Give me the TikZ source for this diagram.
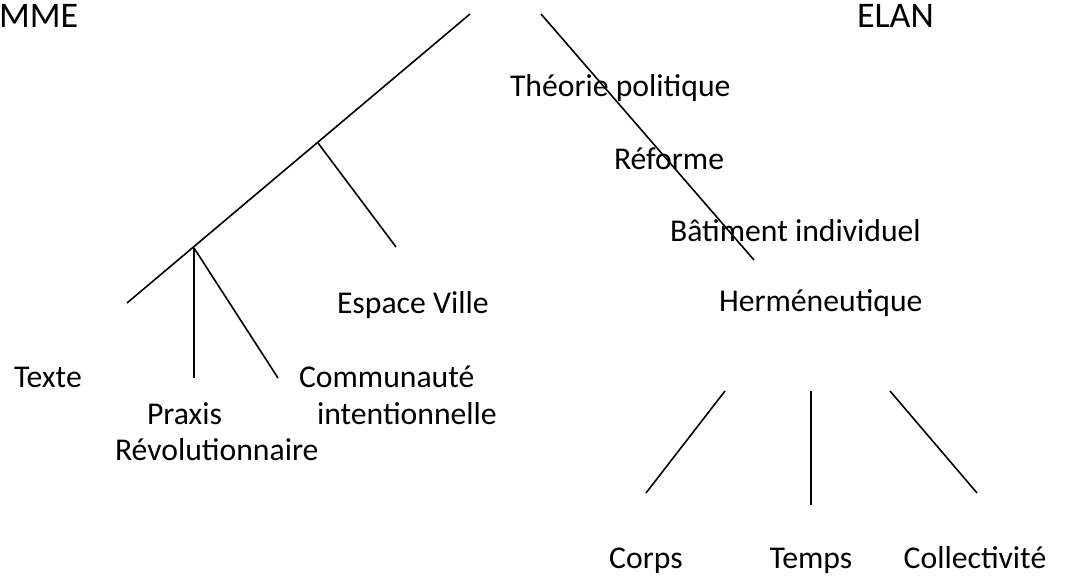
\documentclass[tikz,border=0pt]{standalone}
\usepackage{fontspec}
\setmainfont{Carlito}
\begin{document}
\begin{tikzpicture}[x=1pt,y=-1pt,
  lbl/.style={anchor=base west,inner sep=0pt,outer sep=0pt,font=\fontsize{31.7}{38}\selectfont},
  title/.style={lbl,font=\fontsize{36}{43}\selectfont},
  branch/.style={line width=1.6pt,black}]
\useasboundingbox (0,0) rectangle (1066,580);
% labels
\node[title] (mme) at (-1,28) {MME};
\node[title] (elan) at (857,28) {ELAN};
\node[lbl] (theorie) at (510,97) {Théorie politique};
\node[lbl] (reforme) at (614,170) {Réforme};
\node[lbl] (batiment) at (670,242) {Bâtiment individuel};
\node[lbl] (hermeneutique) at (719,312) {Herméneutique};
\node[lbl] (espace) at (337,313) {Espace Ville};
\node[lbl] (texte) at (14,387) {Texte};
\node[lbl] (communaute) at (299,387) {Communauté};
\node[lbl] (praxis) at (147,424) {Praxis};
\node[lbl] (intentionnelle) at (317,424) {intentionnelle};
\node[lbl] (revolutionnaire) at (115,460) {Révolutionnaire};
\node[lbl,anchor=base] (corps) at (646,568) {Corps};
\node[lbl,anchor=base] (temps) at (811,568) {Temps};
\node[lbl,anchor=base] (collectivite) at (975,568) {Collectivité};
% line end points
\coordinate (mtop) at (470,14);
\coordinate (mbot) at (127,303);
\coordinate (j1) at (318,143);
\coordinate (j1e) at (396,247);
\coordinate (j2) at (194,248);
\coordinate (j2v) at (194,378);
\coordinate (j2d) at (278,378);
\coordinate (rtop) at (541,14);
\coordinate (rbot) at (754,260);
\coordinate (a1) at (725,391);
\coordinate (a2) at (646,493);
\coordinate (b1) at (811,391);
\coordinate (b2) at (811,505);
\coordinate (c1) at (890,391);
\coordinate (c2) at (977,493);
% lines
\draw[branch] (mbot) -- (mtop);
\draw[branch] (j1) -- (j1e);
\draw[branch] (j2) -- (j2v);
\draw[branch] (j2) -- (j2d);
\draw[branch] (rtop) -- (rbot);
\draw[branch] (a1) -- (a2);
\draw[branch] (b1) -- (b2);
\draw[branch] (c1) -- (c2);
\end{tikzpicture}
\end{document}
